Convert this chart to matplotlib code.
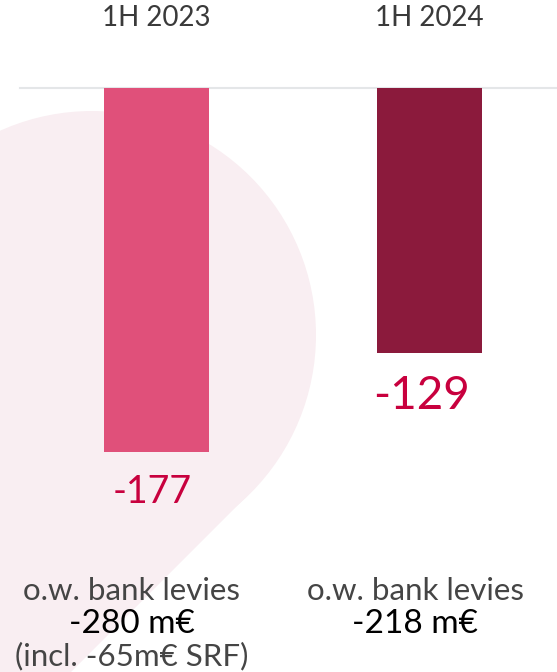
import matplotlib
matplotlib.use("Agg")
from matplotlib import pyplot as plt
from matplotlib.patches import Circle, Polygon

# data
periods = ["1H 2023", "1H 2024"]
values = [-177, -129]
value_labels = ["-177", "-129"]
levies_text = ["-280 m€", "-218 m€"]
levies_note = ["(incl. -65m€ SRF)", ""]

bar_colors = ["#E0507A", "#8B1A3C"]
label_color = "#C8003E"
blob_color = "#F9EEF2"

plt.rcParams["font.family"] = ["Lato", "DejaVu Sans"]

fig = plt.figure(figsize=(5.57, 6.72), dpi=100)
ax = fig.add_axes([0, 0, 1, 1])
ax.set_xlim(-0.5733, 1.467)
ax.set_ylim(-284, 42.8)
ax.axis("off")

# background pink blob (decoration, in pixel space)
def px(x, y):
    return (x / 100, (672 - y) / 100)

tr = fig.dpi_scale_trans
ax.add_patch(Circle(px(92, 335), 2.24, transform=tr, color=blob_color, zorder=0, lw=0))
ax.add_patch(Polygon([px(92, 335), px(250, 493), px(63, 680), px(-10, 680), px(-10, 335)],
                     closed=True, transform=tr, color=blob_color, zorder=0, lw=0))

# baseline
ax.axhline(0, xmin=20 / 557, xmax=1, color="#E4E6E8", lw=1.5, zorder=1)

x = list(range(len(periods)))
ax.bar(x, values, width=0.3846, color=bar_colors, zorder=2)

for i, p in enumerate(periods):
    ax.text(i, 34, p, ha="center", va="center", fontsize=20, color="#3a3a3a")

# value labels under bars
sizes = [27, 33]
offs = [(-3, -29), (-6, -31)]
for i, v in enumerate(values):
    ax.annotate(value_labels[i], (i, v), xytext=offs[i], textcoords="offset points",
                ha="center", va="center", fontsize=sizes[i], color=label_color)

# bank levies notes
note_shift = [-25, -14]
for i in x:
    xc = (156.5 + 273 * i + note_shift[i]) / 557
    fig.text(xc, 1 - 591 / 672, "o.w. bank levies",
             ha="center", va="center", fontsize=22.5, color="#454545")
    fig.text(xc, 1 - 624 / 672, levies_text[i],
             ha="center", va="center", fontsize=24, color="#000000")
    if levies_note[i]:
        fig.text(xc, 1 - 656 / 672, levies_note[i],
                 ha="center", va="center", fontsize=22.5, color="#454545")

fig.savefig("out.png", dpi=100)
